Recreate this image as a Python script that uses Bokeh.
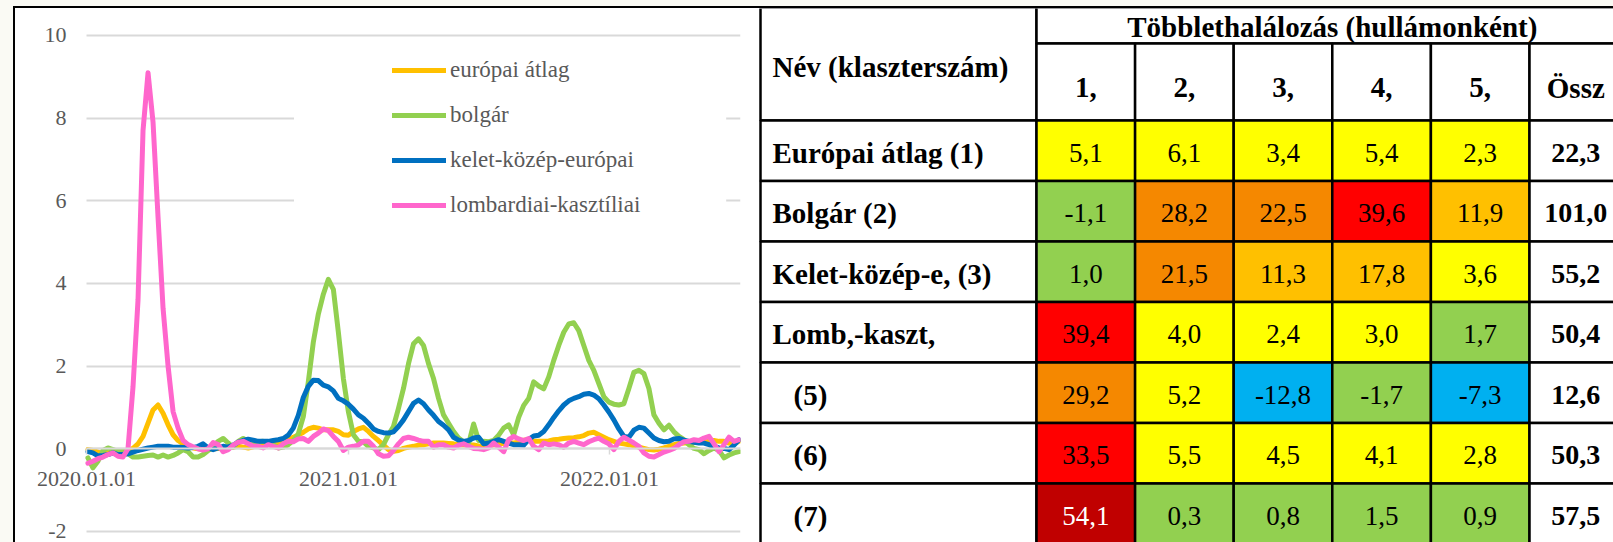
import pandas as pd
from bokeh.plotting import figure
from bokeh.models import (Range1d, FixedTicker, DatetimeTickFormatter, Legend, LegendItem,
                          BoxAnnotation, Div, ColumnDataSource)
from bokeh.layouts import row, column
from bokeh.core.properties import value
from bokeh.embed import file_html
from bokeh.resources import INLINE

# ---------------- line chart data (weekly) ----------------
start_date = "2020-01-03"
series_names = ["európai átlag", "bolgár", "kelet-közép-európai", "lombardiai-kasztíliai"]
series_colors = ["#FFC000", "#92D050", "#0070C0", "#FF66CC"]

europai = [-0.02, -0.04, -0.08, -0.12, -0.1, -0.07, -0.06, -0.06, -0.04, 0.01,
           0.12, 0.3, 0.62, 0.94, 1.06, 0.86, 0.58, 0.34, 0.2, 0.12,
           0.06, 0.02, 0.0, -0.02, -0.02, 0.0, 0.01, 0.01, 0.02, 0.04,
           0.06, 0.04, 0.02, 0.05, 0.08, 0.1, 0.12, 0.14, 0.14, 0.16,
           0.22, 0.28, 0.33, 0.4, 0.48, 0.52, 0.5, 0.46, 0.46, 0.46,
           0.42, 0.34, 0.33, 0.42, 0.48, 0.52, 0.42, 0.3, 0.2, 0.09,
           -0.02, -0.06, -0.04, 0.01, 0.04, 0.06, 0.09, 0.1, 0.12, 0.14,
           0.14, 0.14, 0.13, 0.12, 0.1, 0.1, 0.09, 0.09, 0.07, 0.06,
           0.09, 0.1, 0.12, 0.13, 0.14, 0.14, 0.16, 0.21, 0.22, 0.18,
           0.18, 0.18, 0.19, 0.22, 0.23, 0.25, 0.26, 0.27, 0.29, 0.32,
           0.38, 0.4, 0.34, 0.28, 0.22, 0.18, 0.14, 0.12, 0.1, 0.07,
           0.04, 0.01, -0.02, -0.03, -0.01, 0.02, 0.06, 0.1, 0.13, 0.14,
           0.14, 0.15, 0.17, 0.18, 0.2, 0.2, 0.18, 0.18, 0.14, 0.12,
           0.18]

bolgar = [-0.22, -0.46, -0.3, -0.04, 0.02, -0.02, -0.06, -0.06, -0.12, -0.2,
          -0.2, -0.18, -0.16, -0.15, -0.2, -0.15, -0.2, -0.16, -0.1, -0.02,
          -0.07, -0.2, -0.2, -0.14, -0.04, 0.06, 0.18, 0.25, 0.14, 0.04,
          0.18, 0.25, 0.18, 0.14, 0.17, 0.18, 0.16, 0.1, 0.02, 0.04,
          0.1, 0.2, 0.36, 0.78, 1.62, 2.58, 3.26, 3.74, 4.1, 3.86,
          2.82, 1.7, 0.9, 0.34, 0.18, 0.17, 0.06, 0.02, -0.02, 0.1,
          0.34, 0.54, 0.98, 1.46, 2.06, 2.54, 2.66, 2.5, 2.06, 1.7,
          1.22, 0.82, 0.62, 0.42, 0.26, 0.17, 0.12, 0.6, 0.2, 0.18,
          0.17, 0.2, 0.33, 0.5, 0.58, 0.34, 0.76, 1.05, 1.22, 1.62,
          1.52, 1.45, 1.74, 2.14, 2.5, 2.82, 3.02, 3.05, 2.86, 2.5,
          2.14, 1.9, 1.58, 1.26, 1.13, 1.08, 1.06, 1.09, 1.46, 1.85,
          1.9, 1.82, 1.46, 0.82, 0.62, 0.46, 0.57, 0.41, 0.3, 0.22,
          0.1, 0.01, -0.02, -0.12, -0.04, 0.02, -0.04, -0.22, -0.15, -0.1,
          -0.07]

kelet = [-0.07, -0.1, -0.17, -0.16, -0.14, -0.1, -0.14, -0.14, -0.12, -0.08,
         -0.04, -0.01, 0.02, 0.04, 0.06, 0.06, 0.06, 0.04, 0.04, 0.03,
         0.02, 0.03, 0.06, 0.12, 0.02, -0.02, 0.02, 0.06, 0.04, 0.09,
         0.16, 0.2, 0.23, 0.21, 0.18, 0.18, 0.18, 0.2, 0.22, 0.25,
         0.33, 0.5, 0.81, 1.24, 1.51, 1.66, 1.65, 1.54, 1.5, 1.4,
         1.22, 1.16, 1.08, 0.96, 0.82, 0.74, 0.62, 0.48, 0.42, 0.39,
         0.38, 0.41, 0.54, 0.7, 0.9, 1.1, 1.18, 1.09, 0.94, 0.81,
         0.66, 0.57, 0.46, 0.28, 0.21, 0.18, 0.2, 0.26, 0.28, 0.12,
         0.14, 0.18, 0.22, 0.18, 0.14, 0.1, 0.1, 0.09, 0.23, 0.31,
         0.33, 0.42, 0.58, 0.76, 0.92, 1.06, 1.16, 1.22, 1.26, 1.32,
         1.34, 1.3, 1.21, 1.06, 0.89, 0.7, 0.48, 0.3, 0.28, 0.45,
         0.52, 0.5, 0.38, 0.26, 0.2, 0.17, 0.18, 0.24, 0.25, 0.21,
         0.18, 0.16, 0.14, 0.14, 0.1, 0.06, 0.02, 0.01, -0.02, 0.09,
         0.22]

lomb = [-0.35, -0.3, -0.24, -0.2, -0.14, -0.1, -0.18, -0.2, 0.0, 1.5,
        3.6, 7.7, 9.1, 7.9, 5.6, 3.4, 2.0, 0.9, 0.5, 0.2,
        0.1, 0.05, 0.0, -0.03, 0.0, 0.15, 0.1, -0.07, -0.02, 0.09,
        0.16, 0.18, 0.12, 0.06, 0.06, 0.02, 0.1, 0.06, 0.02, 0.12,
        0.18, 0.17, 0.24, 0.25, 0.18, 0.3, 0.38, 0.48, 0.44, 0.3,
        0.18, -0.04, 0.04, 0.06, 0.09, 0.18, 0.18, 0.06, -0.12, -0.18,
        -0.17, -0.04, 0.12, 0.25, 0.28, 0.25, 0.21, 0.18, 0.18, 0.04,
        0.1, 0.1, 0.04, 0.02, 0.09, 0.12, 0.06, 0.01, 0.0, -0.02,
        0.02, 0.14, 0.04, -0.07, 0.22, 0.3, 0.24, 0.2, 0.25, 0.06,
        -0.02, 0.14, 0.1, 0.12, 0.1, 0.04, 0.14, 0.18, 0.14, 0.1,
        0.17, 0.22, 0.26, 0.18, 0.12, -0.02, 0.18, 0.28, 0.21, 0.14,
        0.06, -0.1, -0.18, -0.2, -0.14, -0.08, -0.04, 0.01, 0.1, 0.17,
        0.18, 0.22, 0.2, 0.26, 0.3, 0.12, -0.07, 0.1, 0.28, 0.18,
        0.22]

y_ticks = [-2, 0, 2, 4, 6, 8, 10]
y_tick_labels = ["-2", "0", "2", "4", "6", "8", "10"]
x_tick_dates = ["2020-01-01", "2021-01-01", "2022-01-01"]
x_tick_labels = ["2020.01.01", "2021.01.01", "2022.01.01"]
x_start, x_end = "2020-01-01", "2022-07-03"

# ---------------- table data ----------------
row_labels = ["Európai átlag (1)", "Bolgár (2)", "Kelet-közép-e, (3)", "Lomb,-kaszt,", "(5)", "(6)", "(7)"]
col_headers = ["1,", "2,", "3,", "4,", "5,", "Össz"]
table_title = "Többlethalálozás (hullámonként)"
name_header = "Név (klaszterszám)"
wave1 = [5.1, -1.1, 1.0, 39.4, 29.2, 33.5, 54.1]
wave2 = [6.1, 28.2, 21.5, 4.0, 5.2, 5.5, 0.3]
wave3 = [3.4, 22.5, 11.3, 2.4, -12.8, 4.5, 0.8]
wave4 = [5.4, 39.6, 17.8, 3.0, -1.7, 4.1, 1.5]
wave5 = [2.3, 11.9, 3.6, 1.7, -7.3, 2.8, 0.9]
total = [22.3, 101.0, 55.2, 50.4, 12.6, 50.3, 57.5]

FONT = "Liberation Serif"
FONT_Q = '"Liberation Serif"'
GRAY = "#595959"
PAGE_BG = "#FAFAF4"


def ms(d):
    return pd.Timestamp(d).timestamp() * 1000.0


# ================= chart =================
dates = pd.date_range(start_date, periods=len(europai), freq="7D")
src = ColumnDataSource(dict(date=dates, europai=europai, bolgar=bolgar, kelet=kelet, lomb=lomb))

CH_W, CH_H = 743, 534
PLOT_L, PLOT_R = 71, 725          # start / end of the plotting area inside the figure (px)
day_px = (PLOT_R - PLOT_L) / ((ms(x_end) - ms(x_start)) / 86400000.0)
x_lo = ms(x_start) - PLOT_L / day_px * 86400000.0

chart = figure(width=CH_W, height=CH_H, x_axis_type="datetime", title=None,
               x_range=Range1d(x_lo, ms(x_end)),
               y_range=Range1d(-2.267, 10.653),
               output_backend="svg", toolbar_location=None,
               min_border_left=0, min_border_right=CH_W - PLOT_R, min_border_top=0, min_border_bottom=0,
               background_fill_color="white", border_fill_color="white", outline_line_color=None)

chart.xgrid.visible = False
chart.ygrid.ticker = FixedTicker(ticks=y_ticks)
chart.ygrid.grid_line_color = "#d9d9d9"
chart.ygrid.grid_line_width = 2
chart.ygrid.cross_bounds = (ms(x_start), ms(x_end))

yax = chart.yaxis[0]
yax.ticker = FixedTicker(ticks=y_ticks)
yax.major_label_overrides = {t: lab for t, lab in zip(y_ticks, y_tick_labels)}
yax.fixed_location = ms(x_start)
yax.axis_line_color = None
yax.major_tick_line_color = None
yax.minor_tick_line_color = None
yax.major_tick_out = 0
yax.major_tick_in = 0
yax.major_label_standoff = 20
yax.major_label_text_font = FONT_Q
yax.major_label_text_font_size = "22px"
yax.major_label_text_color = GRAY

xax = chart.xaxis[0]
tick_ms = [ms(d) for d in x_tick_dates]
xax.ticker = FixedTicker(ticks=tick_ms)
xax.formatter = DatetimeTickFormatter(days="%Y.%m.%d", months="%Y.%m.%d", years="%Y.%m.%d")
xax.major_label_overrides = {t: lab for t, lab in zip(tick_ms, x_tick_labels)}
xax.fixed_location = 0
xax.bounds = (ms(x_start), ms(x_end))
xax.axis_line_color = "#d9d9d9"
xax.axis_line_width = 2
xax.major_tick_line_color = "#d9d9d9"
xax.major_tick_line_width = 1.5
xax.major_tick_out = 6
xax.major_tick_in = 0
xax.minor_tick_line_color = None
xax.major_label_standoff = 17
xax.major_label_text_font = FONT_Q
xax.major_label_text_font_size = "22px"
xax.major_label_text_color = GRAY

renderers = []
for col, color in zip(["europai", "bolgar", "kelet", "lomb"], series_colors):
    r = chart.line("date", col, source=src, line_color=color, line_width=5,
                   line_cap="round", line_join="round")
    renderers.append(r)

# white legend background area hiding the gridlines behind the legend
mask = BoxAnnotation(left=ms("2020-10-17"), right=ms("2022-06-13"), bottom=5, top=9,
                     fill_color="white", fill_alpha=1, line_alpha=0)
chart.add_layout(mask)

legend = Legend(items=[LegendItem(label=n, renderers=[r]) for n, r in zip(series_names, renderers)],
                location=(367, 313), orientation="vertical",
                glyph_width=54, glyph_height=28, label_height=28, label_standoff=4,
                spacing=17, padding=10, margin=0,
                label_text_font=FONT_Q, label_text_font_size="23px", label_text_color=GRAY,
                border_line_alpha=0, background_fill_color="white", background_fill_alpha=1)
chart.add_layout(legend)

# ================= table (coordinates = page pixels) =================
TB_X0, TB_W, TB_Y0, TB_H = 758, 855, 8, 534
X0, NAME_R, COL_W = 760, 1036, 98.6
Y_TOP, Y_HMID, Y_HBOT, ROW_H = 7, 43, 120, 60.5


def cell_color(v):
    if v < -5:
        return "#00B0F0"
    if v < 2:
        return "#92D050"
    if v < 10:
        return "#FFFF00"
    if v < 20:
        return "#FFC000"
    if v < 30:
        return "#F58800"
    if v < 50:
        return "#FF0000"
    return "#C00000"


def fmt(v):
    return f"{v:.1f}".replace(".", ",")


table = figure(width=TB_W, height=TB_H, title=None,
               x_range=Range1d(TB_X0, TB_X0 + TB_W), y_range=Range1d(TB_Y0 + TB_H, TB_Y0),
               output_backend="svg", toolbar_location=None, min_border=0,
               x_axis_location=None, y_axis_location=None, outline_line_color=None,
               background_fill_color="white", border_fill_color="white")
table.grid.visible = False

ncols = len(col_headers)
L, R, T, B, F = [], [], [], [], []
L += [X0, NAME_R]; R += [NAME_R, NAME_R + ncols * COL_W]; T += [Y_TOP, Y_TOP]; B += [Y_HBOT, Y_HMID]
F += ["white", "white"]
for j in range(ncols):
    L.append(NAME_R + j * COL_W); R.append(NAME_R + (j + 1) * COL_W)
    T.append(Y_HMID); B.append(Y_HBOT); F.append("white")

waves = [wave1, wave2, wave3, wave4, wave5]
vx, vy, vt, vc = [], [], [], []
tx, ty, tt = [], [], []
lx, ly, lt = [], [], []
OSSZ_X = NAME_R + 5.5 * COL_W - 3
for i, lab in enumerate(row_labels):
    top = Y_HBOT + i * ROW_H
    bot = top + ROW_H
    cy = (top + bot) / 2 + 2
    L.append(X0); R.append(NAME_R); T.append(top); B.append(bot); F.append("white")
    lx.append(X0 + (33 if lab.startswith("(") else 12)); ly.append(cy); lt.append(lab)
    for j, w in enumerate(waves):
        v = w[i]
        L.append(NAME_R + j * COL_W); R.append(NAME_R + (j + 1) * COL_W)
        T.append(top); B.append(bot); F.append(cell_color(v))
        vx.append(NAME_R + (j + 0.5) * COL_W); vy.append(cy); vt.append(fmt(v))
        vc.append("white" if v >= 50 else "black")
    j = len(waves)
    L.append(NAME_R + j * COL_W); R.append(NAME_R + (j + 1) * COL_W)
    T.append(top); B.append(bot); F.append("white")
    tx.append(OSSZ_X); ty.append(cy); tt.append(fmt(total[i]))

table.quad(left=L, right=R, top=T, bottom=B, fill_color=F, line_color="black", line_width=2.5)

BOLD_SIZE = value("29px")
hx = [NAME_R + (j + 0.5) * COL_W for j in range(ncols - 1)] + [OSSZ_X]
table.text(x=[NAME_R + ncols * COL_W / 2], y=[26], text=[table_title], text_align="center",
           text_baseline="middle", text_font=value(FONT), text_font_style="bold",
           text_font_size=BOLD_SIZE, text_color="black")
table.text(x=[X0 + 12], y=[66], text=[name_header], text_align="left",
           text_baseline="middle", text_font=value(FONT), text_font_style="bold",
           text_font_size=BOLD_SIZE, text_color="black")
table.text(x=hx, y=[87] * ncols, text=col_headers,
           text_align="center", text_baseline="middle", text_font=value(FONT),
           text_font_style="bold", text_font_size=BOLD_SIZE, text_color="black")
table.text(x=lx, y=ly, text=lt, text_align="left", text_baseline="middle", text_font=value(FONT),
           text_font_style="bold", text_font_size=BOLD_SIZE, text_color="black")
table.text(x=vx, y=vy, text=vt, text_color=vc, text_align="center", text_baseline="middle",
           text_font=value(FONT), text_font_size=value("27px"))
table.text(x=tx, y=ty, text=tt, text_align="center", text_baseline="middle", text_font=value(FONT),
           text_font_style="bold", text_font_size=value("28px"), text_color="black")

# ================= page layout with frame lines =================
def block(w, h, color):
    return Div(text="", width=w, height=h, margin=0, styles={"background-color": color})


top_band = block(1613, 6, PAGE_BG)
top_line = row(block(13, 2, PAGE_BG), block(1600, 2, "#000000"), spacing=0)
body = row(block(13, CH_H, PAGE_BG), block(2, CH_H, "#000000"), chart, table, spacing=0)
layout = column(top_band, top_line, body, spacing=0)

open("out.html", "w").write(file_html(layout, INLINE))
